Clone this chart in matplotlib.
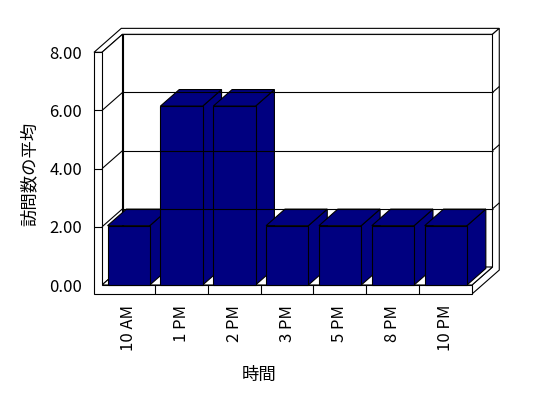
import matplotlib
matplotlib.use('Agg')
import matplotlib.pyplot as plt
from matplotlib.patches import Polygon

plt.rcParams['font.family'] = ['Noto Sans CJK JP', 'DejaVu Sans']

# data
hours = ['10 AM', '1 PM', '2 PM', '3 PM', '5 PM', '8 PM', '10 PM']
avg_visits = [2.04, 6.15, 6.15, 2.04, 2.04, 2.04, 2.04]
y_ticks = [0, 2, 4, 6, 8]
x_title = '時間'
y_title = '訪問数の平均'

W, H = 548, 398
fig = plt.figure(figsize=(W / 100, H / 100), dpi=100)

# front plane of the plot box, in pixels
px0, px1, py0, py1 = 102, 472, 285, 52.3
ax = fig.add_axes([px0 / W, 1 - py0 / H, (px1 - px0) / W, (py0 - py1) / H])
n = len(hours)
ymax = y_ticks[-1]
ax.set_xlim(0, n)
ax.set_ylim(0, ymax)
for s in ax.spines.values():
    s.set_visible(False)
ax.patch.set_visible(False)

# oblique depth projection (Excel-like 3D)
ux = (px1 - px0) / n
uy = (py0 - py1) / ymax
DX = 20.5 / ux
DY = 18.0 / uy
wall = 8 / ux      # side wall thickness
floor = -9 / uy    # floor thickness
t = 0.33           # back wall thickness (depth)
lw = 0.8


def P(x, y, z):
    return (x + DX * z, y + DY * z)


def face(pts, fc='white'):
    ax.add_patch(Polygon([P(*p) for p in pts], closed=True, fc=fc, ec='black',
                         lw=lw, clip_on=False, joinstyle='miter'))


def line(a, b):
    pa, pb = P(*a), P(*b)
    ax.plot([pa[0], pb[0]], [pa[1], pb[1]], color='black', lw=lw,
            clip_on=False, solid_capstyle='butt')


# walls and floor
face([(0, 0, 1), (n, 0, 1), (n, ymax, 1), (0, ymax, 1)])
face([(-wall, ymax, 0), (0, ymax, 0), (0, ymax, 1), (n, ymax, 1),
      (n, ymax, 1 + t), (-wall, ymax, 1 + t)])
face([(n, ymax, 1), (n, ymax, 1 + t), (n, floor, 1 + t), (n, floor, 0),
      (n, 0, 0), (n, 0, 1)])
face([(0, 0, 0), (0, ymax, 0), (0, ymax, 1), (0, 0, 1)])
face([(0, 0, 0), (n, 0, 0), (n, 0, 1), (0, 0, 1)])
face([(-wall, floor, 0), (n, floor, 0), (n, 0, 0), (0, 0, 0),
      (0, ymax, 0), (-wall, ymax, 0)])

# gridlines
for v in y_ticks[1:-1]:
    line((-wall, v, 0), (0, v, 0))
    line((0, v, 0), (0, v, 1))
    line((0, v, 1), (n, v, 1))
    line((n, v, 1), (n, v, 1 + t))
for i in range(1, n):
    line((i, floor, 0), (i, 0, 0))

# bars
bw, bd, off = 0.8, 0.92, 0.105
for i, v in enumerate(avg_visits):
    xl = i + off
    xr = xl + bw
    face([(xr, 0, 0), (xr, 0, bd), (xr, v, bd), (xr, v, 0)], '#000080')
    face([(xl, v, 0), (xr, v, 0), (xr, v, bd), (xl, v, bd)], '#000080')
    face([(xl, 0, 0), (xr, 0, 0), (xr, v, 0), (xl, v, 0)], '#000080')

ax.set_yticks(y_ticks)
ax.set_yticklabels([f'{v:.2f}' for v in y_ticks])
ax.set_xticks([i + 0.5 for i in range(n)])
ax.set_xticklabels(hours, rotation=90)
ax.tick_params(axis='y', length=0, pad=14.4, labelsize=12)
ax.tick_params(axis='x', length=0, pad=14.4, labelsize=12)

fig.text(29.5 / W, 1 - 174 / H, y_title, rotation=90, ha='center', va='center', fontsize=12.5)
fig.text(259 / W, 1 - 375 / H, x_title, ha='center', va='center', fontsize=12.5)

fig.savefig('out.png', dpi=100, facecolor='white')
